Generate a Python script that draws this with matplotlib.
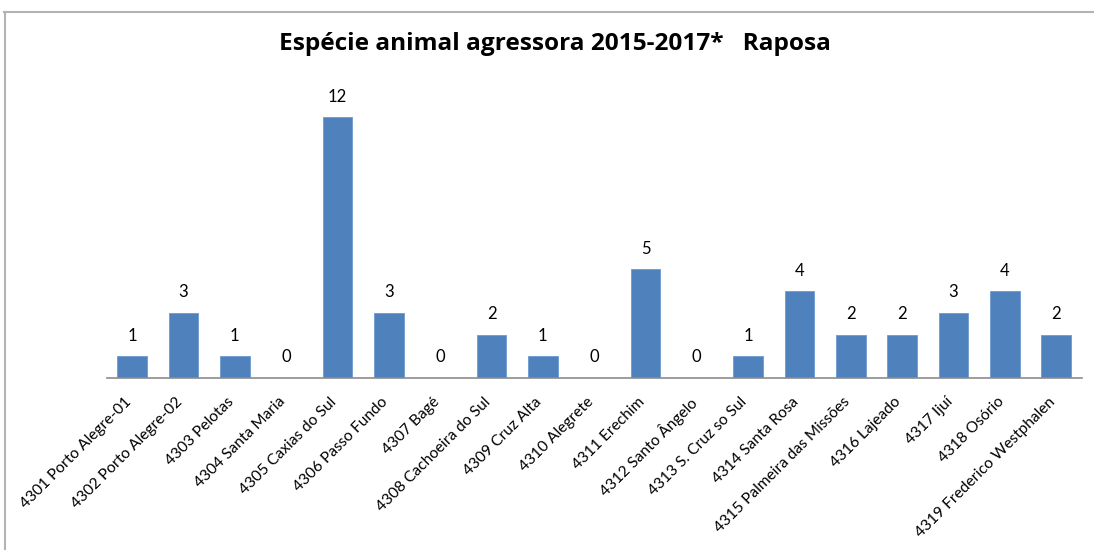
import matplotlib
matplotlib.use("Agg")
import matplotlib.pyplot as plt
from matplotlib.lines import Line2D
import matplotlib.transforms as mtransforms

categories = [
    "4301 Porto Alegre-01", "4302 Porto Alegre-02", "4303 Pelotas", "4304 Santa Maria",
    "4305 Caxias do Sul", "4306 Passo Fundo", "4307 Bagé", "4308 Cachoeira do Sul",
    "4309 Cruz Alta", "4310 Alegrete", "4311 Erechim", "4312 Santo Ângelo",
    "4313 S. Cruz so Sul", "4314 Santa Rosa", "4315 Palmeira das Missões", "4316 Lajeado",
    "4317 Ijuí", "4318 Osório", "4319 Frederico Westphalen",
]
values = [1, 3, 1, 0, 12, 3, 0, 2, 1, 0, 5, 0, 1, 4, 2, 2, 3, 4, 2]
title = "Espécie animal agressora 2015-2017*   Raposa"

W, H = 1094, 550
fig = plt.figure(figsize=(W / 100, H / 100), dpi=100)
fig.patch.set_facecolor("white")

# partial chart border (top and left)
fig.add_artist(Line2D([4 / W, 1], [1 - 12 / H, 1 - 12 / H], color="#b3b3b3", lw=1.5, transform=fig.transFigure))
fig.add_artist(Line2D([5 / W, 5 / W], [0, 1 - 12 / H], color="#b3b3b3", lw=1.5, transform=fig.transFigure))

left, right = 106.6, 1081.7
bottom_px, top_px = 378, 73.5
ax = fig.add_axes([left / W, 1 - bottom_px / H, (right - left) / W, (bottom_px - top_px) / H])

x = list(range(len(categories)))
bars = ax.bar(x, values, width=0.58, color="#4F81BD", edgecolor="#6f9bd0", linewidth=0.6, zorder=2)
ax.set_xlim(-0.5, len(categories) - 0.5)
ax.set_ylim(0, 14)

for xi, v in zip(x, values):
    ax.annotate(str(v), (xi, v), xytext=(0, 9), textcoords="offset points",
                ha="center", va="bottom", fontsize=12, family="Lato", color="#000000")

for s in ["top", "right", "left"]:
    ax.spines[s].set_visible(False)
ax.spines["bottom"].set_color("#8c8c8c")
ax.spines["bottom"].set_linewidth(1.2)
ax.set_yticks([])
ax.set_xticks(x)
ax.set_xticklabels(categories, rotation=45, ha="right", va="top", rotation_mode="anchor",
                   fontsize=11.2, family="Lato", color="#000000")
ax.tick_params(axis="x", length=0, pad=12)
shift = mtransforms.ScaledTranslation(-8 / 100, 0, fig.dpi_scale_trans)
for lbl in ax.get_xticklabels():
    lbl.set_transform(lbl.get_transform() + shift)

fig.text(554.5 / W, 1 - 44 / H, title, ha="center", va="center", fontsize=17.6,
         fontweight="bold", family="Open Sans", color="#000000")

fig.savefig("out.png", dpi=100, facecolor="white")
